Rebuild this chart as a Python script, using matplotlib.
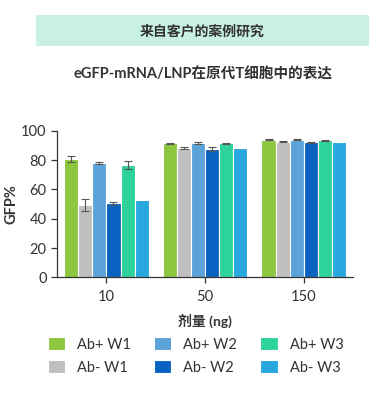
import numpy as np
import matplotlib.pyplot as plt
from matplotlib.patches import Rectangle

plt.rcParams["font.family"] = ["Lato", "Noto Sans CJK SC", "DejaVu Sans"]

# 数据
doses = ["10", "50", "150"]
series = ["Ab+ W1", "Ab- W1", "Ab+ W2", "Ab- W2", "Ab+ W3", "Ab- W3"]
colors = ["#8dc63f", "#bfbfbf", "#5ba3d9", "#0b63c1", "#2ed39b", "#29a8e0"]
values = [
    [80.5, 91.4, 93.9],   # Ab+ W1
    [49.5, 88.2, 92.5],   # Ab- W1
    [77.8, 91.8, 93.9],   # Ab+ W2
    [50.7, 87.5, 92.3],   # Ab- W2
    [76.6, 91.4, 93.4],   # Ab+ W3
    [52.7, 88.2, 92.3],   # Ab- W3
]
errors = [
    [2.0, 0.5, 0.4],
    [4.0, 0.5, 0.3],
    [0.6, 0.8, 0.5],
    [1.0, 1.5, 0.4],
    [2.5, 0.3, 0.3],
    [0.0, 0.0, 0.0],
]

txt = "#333333"
fig = plt.figure(figsize=(3.83, 3.94), dpi=100)

# 顶部横幅
fig.patches.append(Rectangle((0.094, 0.883), 0.869, 0.079, transform=fig.transFigure,
                             facecolor="#c8f1e2", edgecolor="none", zorder=0))
fig.text(0.528, 0.923, "来自客户的案例研究", ha="center", va="center",
         fontsize=10, fontweight="bold", color=txt)
fig.text(0.53, 0.81, "eGFP-mRNA/LNP在原代T细胞中的表达", ha="center", va="center",
         fontsize=10.5, fontweight="bold", color=txt)

ax = fig.add_axes([0.149, 0.296, 0.773, 0.372])
x = np.arange(len(doses))
w = 0.143
for i, name in enumerate(series):
    pos = x + (i - 2.5) * w
    err = errors[i] if any(errors[i]) else None
    ax.bar(pos, values[i], width=w, color=colors[i], edgecolor="white", linewidth=0.8,
           label=name, yerr=err, capsize=3,
           error_kw=dict(ecolor="#555555", elinewidth=0.8, capthick=0.8))

ax.set_xlim(-0.5, 2.5)
ax.set_ylim(0, 100)
ax.set_yticks([0, 20, 40, 60, 80, 100])
ax.set_xticks(x)
ax.set_xticklabels(doses)
ax.spines["top"].set_visible(False)
ax.spines["right"].set_visible(False)
for s in ["left", "bottom"]:
    ax.spines[s].set_color(txt)
    ax.spines[s].set_linewidth(0.9)
ax.tick_params(colors=txt, labelsize=10.5, length=4, width=0.9)
ax.tick_params(axis="x", pad=5)
ax.set_ylabel("GFP%", fontsize=10.5, fontweight="bold", color=txt, labelpad=2)
ax.set_xlabel("剂量 (ng)", fontsize=10, fontweight="bold", color=txt, labelpad=7)

fig.legend(loc="upper left", bbox_to_anchor=(0.09, 0.178), ncol=3, frameon=False,
           fontsize=10.5, labelcolor=txt, handlelength=1.2, handleheight=1.0,
           columnspacing=1.6, handletextpad=0.8, labelspacing=0.6)

fig.savefig("out.png", dpi=100)
